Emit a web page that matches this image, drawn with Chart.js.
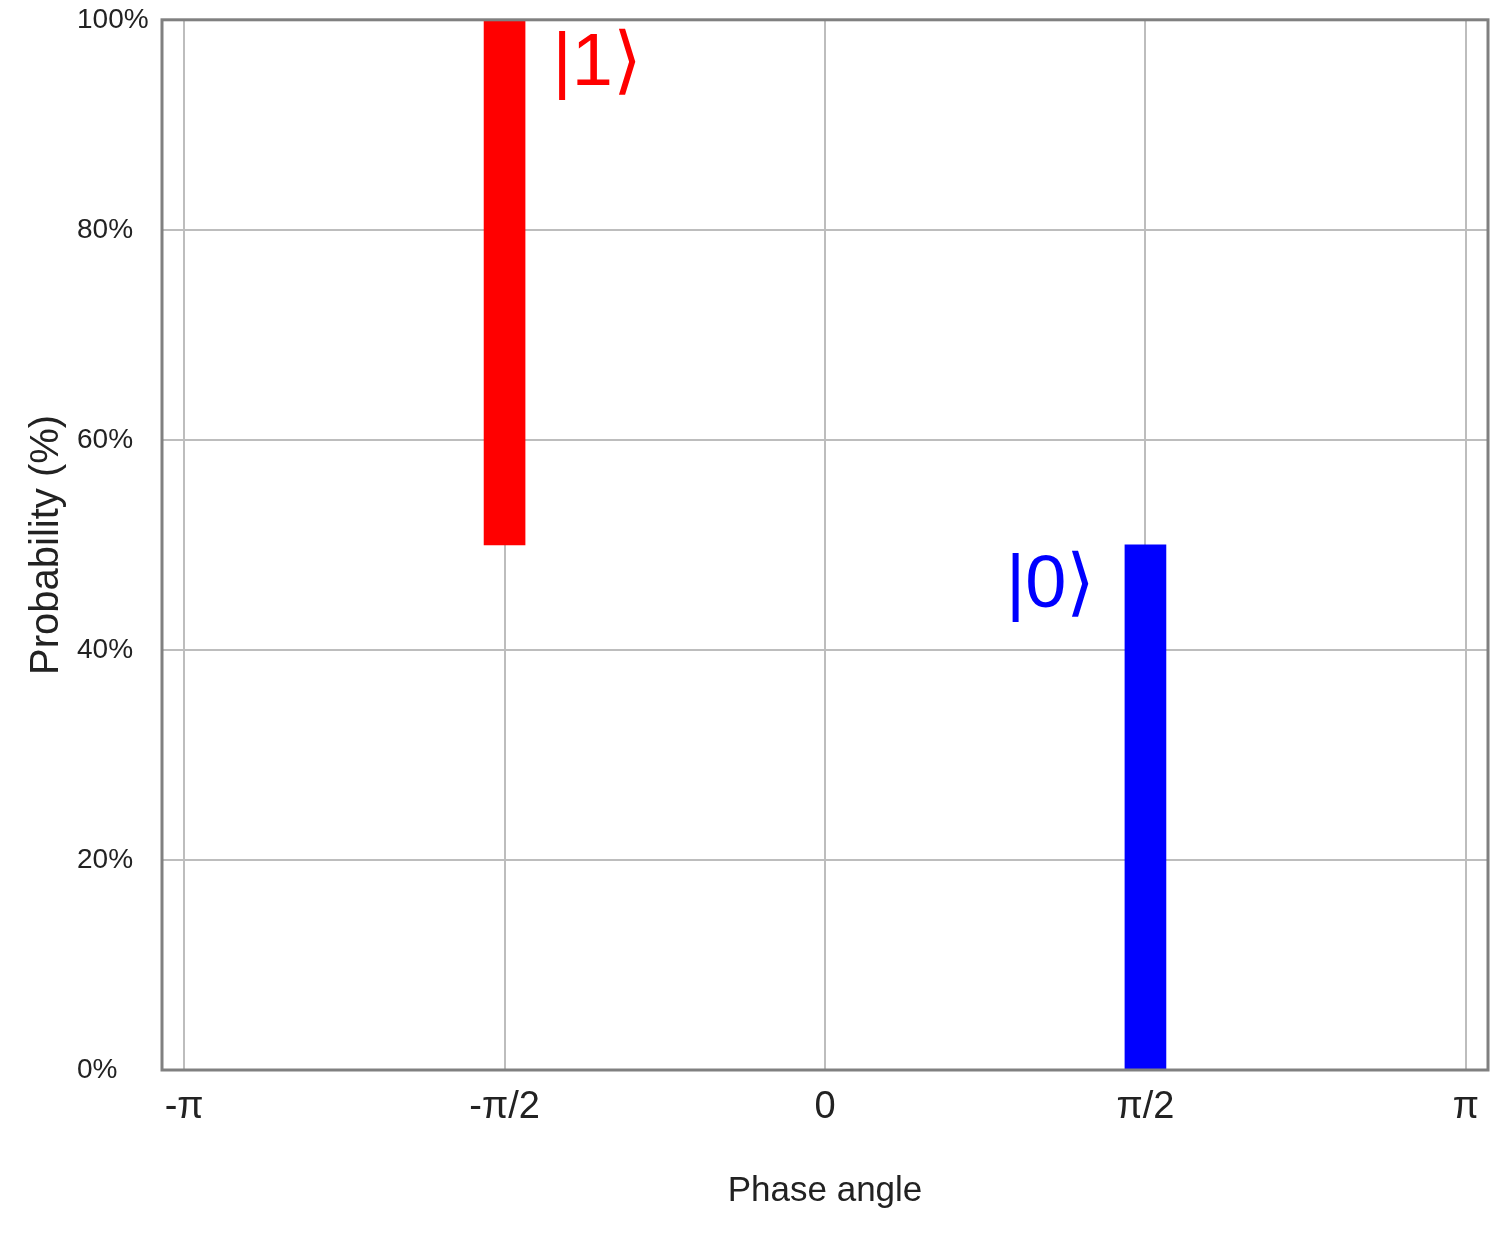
<!DOCTYPE html>
<html>
<head>
<meta charset="utf-8">
<script src="https://cdn.jsdelivr.net/npm/chart.js@4/dist/chart.umd.min.js"></script>
<style>
  html, body { margin: 0; padding: 0; background: #fff; }
  #wrap { width: 1507px; height: 1239px; }
</style>
</head>
<body>
<div id="wrap"><canvas id="graf"></canvas></div>
<script>
// eixo x - angulos de fase
var phaseTicks = [-Math.PI, -Math.PI / 2, 0, Math.PI / 2, Math.PI];
var phaseTickLabels = ['-π', '-π/2', '0', 'π/2', 'π'];
// estados e barras flutuantes (probabilidade em %)
var states = ['|1⟩', '|0⟩'];
var statePhases = [-Math.PI / 2, Math.PI / 2];
var probLow = [50, 0];
var probHigh = [100, 50];
var stateColors = ['#ff0000', '#0000ff'];

var pontos = statePhases.map(function (p, i) {
  return { x: p, y: [probLow[i], probHigh[i]] };
});

// rotulos |1> e |0> ao lado das barras
var stateLabels = {
  id: 'stateLabels',
  afterDatasetsDraw: function (chart, args, opts) {
    var ctx = chart.ctx;
    var meta = chart.getDatasetMeta(0);
    ctx.save();
    ctx.font = '74px "Liberation Sans", Arial, sans-serif';
    ctx.textBaseline = 'middle';
    meta.data.forEach(function (bar, i) {
      var top = Math.min(bar.y, bar.base);
      var o = opts.offsets[i];
      ctx.fillStyle = stateColors[i];
      ctx.textAlign = o.dx > 0 ? 'left' : 'right';
      ctx.fillText(states[i], bar.x + o.dx, top + o.dy);
    });
    ctx.restore();
  }
};

// moldura em volta da area do grafico
var frame = {
  id: 'frame',
  afterDatasetsDraw: function (chart) {
    var a = chart.chartArea;
    var ctx = chart.ctx;
    ctx.save();
    ctx.strokeStyle = '#808080';
    ctx.lineWidth = 3;
    ctx.strokeRect(a.left, a.top, a.right - a.left, a.bottom - a.top);
    ctx.restore();
  }
};

var ctx = document.getElementById('graf');
var graf = new Chart(ctx, {
  type: 'bar',
  data: {
    datasets: [{
      data: pontos,
      backgroundColor: stateColors,
      borderWidth: 0,
      barThickness: 41
    }]
  },
  plugins: [stateLabels, frame],
  options: {
    responsive: true,
    maintainAspectRatio: false,
    animation: false,
    layout: { padding: { top: 19, right: 19, left: 77, bottom: 0 } },
    plugins: {
      legend: { display: false },
      tooltip: { enabled: false },
      stateLabels: { offsets: [{ dx: 48, dy: 45 }, { dx: -50, dy: 42 }] }
    },
    scales: {
      x: {
        type: 'linear',
        min: -3.25,
        max: 3.25,
        offset: false,
        afterBuildTicks: function (scale) {
          scale.ticks = phaseTicks.map(function (v) { return { value: v }; });
        },
        afterFit: function (scale) { scale.height = 169; },
        grid: { color: '#bdbdbd', lineWidth: 2, drawTicks: false, offset: false },
        border: { display: false },
        ticks: {
          autoSkip: false,
          maxRotation: 0,
          padding: 15,
          color: '#222',
          font: { family: '"Liberation Sans", Arial, sans-serif', size: 38 },
          callback: function (v, i) { return phaseTickLabels[i]; }
        },
        title: {
          display: true,
          text: 'Phase angle',
          color: '#222',
          padding: { top: 0, bottom: 27 },
          font: { family: '"Liberation Sans", Arial, sans-serif', size: 35 }
        }
      },
      y: {
        min: 0,
        max: 100,
        afterFit: function (scale) { scale.width = 85; },
        grid: { color: '#bdbdbd', lineWidth: 2, drawTicks: false },
        border: { display: false },
        ticks: {
          stepSize: 20,
          crossAlign: 'far',
          color: '#222',
          font: { family: '"Liberation Sans", Arial, sans-serif', size: 28 },
          callback: function (v) { return v + '%'; }
        },
        title: {
          display: true,
          text: 'Probability (%)',
          color: '#222',
          padding: { top: -54, bottom: 0 },
          font: { family: '"Liberation Sans", Arial, sans-serif', size: 40 }
        }
      }
    }
  }
});
</script>
</body>
</html>
